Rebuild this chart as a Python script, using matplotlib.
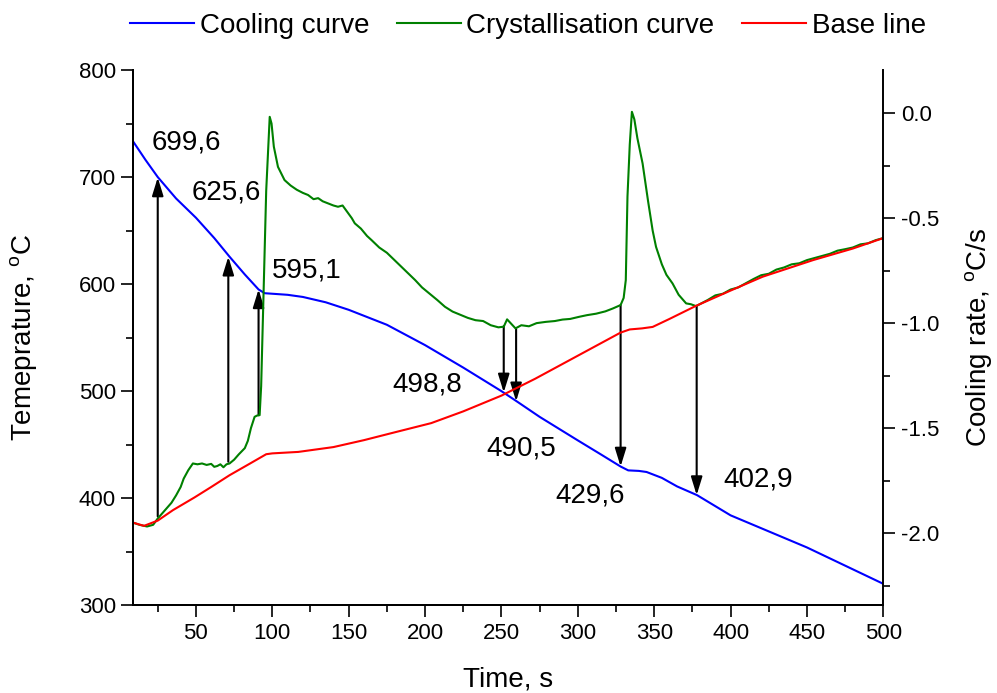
import matplotlib
matplotlib.use('Agg')
import matplotlib.pyplot as plt
from matplotlib.ticker import MultipleLocator, FormatStrFormatter

plt.rcParams['font.family'] = ['Liberation Sans', 'DejaVu Sans']
plt.rcParams['axes.unicode_minus'] = False

# cooling curve (left axis, deg C)
time_cool = [9, 17, 25, 37, 50, 62, 72, 82, 91, 95, 100, 110, 120, 135, 150, 175, 200, 225,
             250, 260, 275, 300, 315, 328, 333, 340, 345, 355, 365, 378, 400, 425, 450, 475, 500]
temp_cool = [733, 716, 700, 680, 662, 643, 625.6, 609, 595, 591.5, 591, 590, 588, 583, 576, 562,
             543, 522, 500, 490.5, 476, 454, 441, 429.6, 426, 425.5, 424.5, 419, 411, 402.9, 384,
             369, 354, 337, 320]

# base line (right axis, deg C/s)
time_base = [9, 16, 25, 35, 49, 60, 72, 85, 96, 100, 117, 140, 160, 180, 204, 225, 250, 272,
             300, 328, 334, 342, 349, 360, 377, 400, 421, 454, 480, 500]
rate_base = [-1.95, -1.965, -1.94, -1.89, -1.83, -1.78, -1.724, -1.67, -1.624, -1.62, -1.613,
             -1.59, -1.557, -1.52, -1.476, -1.42, -1.345, -1.265, -1.155, -1.045, -1.03, -1.025,
             -1.018, -0.98, -0.919, -0.845, -0.779, -0.70, -0.645, -0.595]

# crystallisation curve (right axis, deg C/s)
time_cryst = [9, 13, 18, 22, 25, 28, 31, 34, 37, 40, 42, 45, 48, 51, 54, 57, 60, 62, 64, 66,
              68, 70, 72, 75, 78, 82, 84, 86, 88.4, 90, 91.7, 92.7, 93.3, 96, 98.3, 99.5, 101,
              103.7, 108, 112, 116, 120, 123.4, 127, 130, 133, 136.6, 140, 143, 146, 149, 152,
              154, 158, 162, 165, 170, 175, 180, 185, 190, 193.5, 198, 203, 208, 213, 218, 223,
              228, 233, 238, 243, 248, 251.5, 253.7, 256, 259.2, 263, 268, 273, 279, 285, 290,
              295, 300.8, 306, 312, 318, 323, 328, 330, 331.4, 332.5, 334, 335.4, 337, 339,
              342.4, 346, 349, 351.2, 355, 358, 362, 366, 370.9, 374, 377.4, 385, 390, 395, 400,
              405, 410, 415, 420, 425, 430, 435, 440, 445, 450, 455, 460, 465, 470, 475, 480,
              485, 490, 495, 500]
rate_cryst = [-1.95, -1.96, -1.968, -1.96, -1.93, -1.905, -1.88, -1.855, -1.82, -1.78, -1.74,
              -1.70, -1.668, -1.672, -1.668, -1.675, -1.67, -1.684, -1.68, -1.672, -1.686, -1.672,
              -1.668, -1.65, -1.625, -1.595, -1.56, -1.50, -1.446, -1.44, -1.438, -1.30, -1.13,
              -0.37, -0.018, -0.05, -0.16, -0.256, -0.319, -0.345, -0.365, -0.38, -0.39, -0.41,
              -0.405, -0.42, -0.43, -0.44, -0.446, -0.44, -0.47, -0.50, -0.525, -0.55, -0.585,
              -0.605, -0.64, -0.665, -0.70, -0.735, -0.77, -0.795, -0.83, -0.86, -0.89, -0.922,
              -0.945, -0.96, -0.975, -0.986, -0.99, -1.01, -1.02, -1.017, -0.982, -1.0, -1.025,
              -1.01, -1.015, -1.0, -0.994, -0.99, -0.983, -0.98, -0.970, -0.962, -0.955, -0.944,
              -0.93, -0.914, -0.88, -0.795, -0.398, -0.15, 0.006, -0.03, -0.12, -0.24, -0.42,
              -0.56, -0.637, -0.72, -0.77, -0.811, -0.865, -0.906, -0.91, -0.919, -0.89, -0.868,
              -0.86, -0.84, -0.83, -0.81, -0.79, -0.772, -0.765, -0.745, -0.735, -0.72, -0.715,
              -0.70, -0.69, -0.68, -0.67, -0.655, -0.648, -0.64, -0.625, -0.62, -0.605, -0.595]

# arrows: time, tail (cooling rate on the lower curve), head (temperature), label
arrow_time = [25, 71.2, 91, 251.5, 259.6, 328, 377.8]
arrow_tail = [-1.92, -1.66, -1.438, -1.014, -1.029, -0.914, -0.919]
arrow_head = [699.6, 625.6, 595.1, 498.8, 490.5, 429.6, 402.9]
label_x = [21, 47.2, 100, 178.9, 240, 285.2, 395.4]
label_y = [732, 685.5, 612.3, 506.4, 446.4, 402.8, 417.5]

fig = plt.figure(figsize=(9.97, 6.93), dpi=100)
ax = fig.add_axes([0.1337, 0.1266, 0.7523, 0.7724])
ax2 = ax.twinx()

l1, = ax.plot(time_cool, temp_cool, color='#0000ff', lw=1.5)
l2, = ax2.plot(time_cryst, rate_cryst, color='#008000', lw=1.5)
l3, = ax2.plot(time_base, rate_base, color='#ff0000', lw=1.5)

ax.set_xlim(9, 500)
ax.set_ylim(300, 800)
ax2.set_ylim(-2.343, 0.205)

for i in range(len(arrow_time)):
    ax.annotate('', xy=(arrow_time[i], arrow_head[i]), xycoords=ax.transData,
                xytext=(arrow_time[i], arrow_tail[i]), textcoords=ax2.transData,
                arrowprops=dict(arrowstyle='-|>,head_length=0.55,head_width=0.17',
                                color='black', lw=1.5, mutation_scale=20,
                                shrinkA=0, shrinkB=0))
    ax.text(label_x[i], label_y[i], str(arrow_head[i]).replace('.', ','),
            fontsize=20, ha='left', va='center')

for a in (ax, ax2):
    a.spines['top'].set_visible(False)
    for s in a.spines.values():
        s.set_linewidth(1.4)

ax.spines['right'].set_visible(False)
ax.xaxis.set_major_locator(MultipleLocator(50))
ax.xaxis.set_minor_locator(MultipleLocator(25))
ax.yaxis.set_major_locator(MultipleLocator(100))
ax.yaxis.set_minor_locator(MultipleLocator(50))
ax2.yaxis.set_major_locator(MultipleLocator(0.5))
ax2.yaxis.set_minor_locator(MultipleLocator(0.25))
ax2.yaxis.set_major_formatter(FormatStrFormatter('%.1f'))

for a in (ax, ax2):
    a.tick_params(which='major', direction='out', length=8.5, width=1.2, labelsize=16, pad=4)
    a.tick_params(which='minor', direction='out', length=5, width=1.2)
ax.tick_params(axis='y', which='both', right=False)

ax.set_xlabel('Time, s', fontsize=20)
ax.set_ylabel('Temeprature, $^{\\mathregular{o}}$C', fontsize=20)
ax2.set_ylabel('Cooling rate, $^{\\mathregular{o}}$C/s', fontsize=20)
ax.xaxis.set_label_coords(0.5, -0.115)
ax.yaxis.set_label_coords(-0.124, 0.5)
ax2.yaxis.set_label_coords(1.106, 0.5)

fig.legend([l1, l2, l3], ['Cooling curve', 'Crystallisation curve', 'Base line'],
           loc='center', bbox_to_anchor=(528 / 997, 1 - 26 / 693), ncol=3, frameon=False,
           fontsize=20, handlelength=2.3, handletextpad=0.2, columnspacing=1.0,
           borderpad=0, borderaxespad=0)

fig.savefig('out.png', dpi=100)
